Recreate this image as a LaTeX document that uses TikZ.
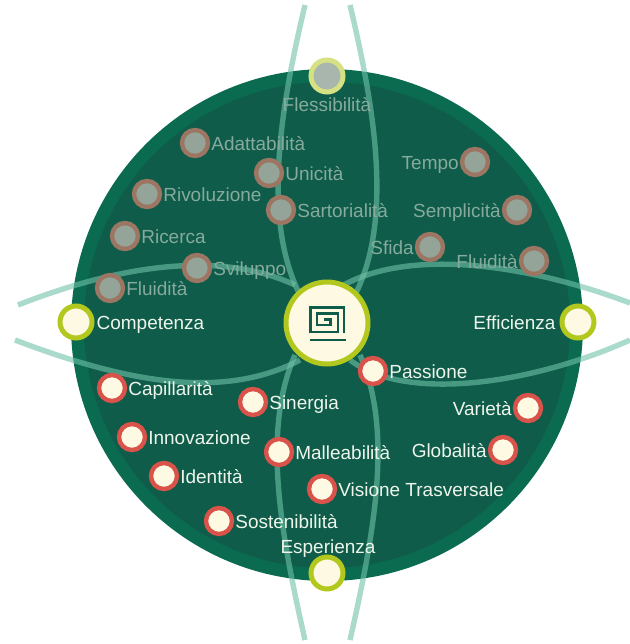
\documentclass[tikz,border=0pt]{standalone}
\usepackage{fontspec}
\setmainfont{Liberation Sans}
\usetikzlibrary{positioning}

\definecolor{discdark}{HTML}{0F5C4B}
\definecolor{discring}{HTML}{0A6B50}
\definecolor{lenscol}{HTML}{6FC2A8}
\definecolor{creamcol}{HTML}{FDF9E3}
\definecolor{limecol}{HTML}{B2C81E}
\definecolor{redcol}{HTML}{D9534A}
\definecolor{fadefill}{HTML}{94A499}
\definecolor{fadering}{HTML}{9C7662}
\definecolor{fadetext}{HTML}{86AA9B}
\definecolor{livetext}{HTML}{EEF5EA}

\tikzset{
  lens/.style={draw=lenscol, line width=2.7mm, opacity=0.6},
  livedot/.style={circle, draw=redcol, fill=creamcol, line width=2.2mm, minimum size=13mm, inner sep=0pt},
  fadedot/.style={circle, draw=fadering, fill=fadefill, line width=2.2mm, minimum size=13mm, inner sep=0pt},
  axisdot/.style={circle, draw=limecol, fill=creamcol, line width=2.5mm, minimum size=16mm, inner sep=0pt},
  livelabel/.style={text=livetext, font=\fontsize{27}{30}\selectfont, inner sep=0pt, text height=26pt, text depth=5.4pt},
  fadelabel/.style={text=fadetext, font=\fontsize{27}{30}\selectfont, inner sep=0pt, text height=26pt, text depth=5.4pt}
}

\begin{document}
\begin{tikzpicture}[x=0.5mm, y=-0.5mm]
\useasboundingbox (0,0) rectangle (630,644);

% disc
\fill[discring] (327,325) circle (256);
\fill[discdark] (327,325) circle (243);

% curves
\draw[lens] (305,5) .. controls (280,110) and (262,220) .. (300,295);
\draw[lens] (350,5) .. controls (375,110) and (393,220) .. (355,295);
\draw[lens] (305,640) .. controls (280,530) and (262,430) .. (295,355);
\draw[lens] (350,640) .. controls (375,530) and (393,430) .. (360,355);
\draw[lens] (18,305) .. controls (120,265) and (220,250) .. (295,285);
\draw[lens] (15,340) .. controls (120,380) and (220,402) .. (300,360);
\draw[lens] (630,303) .. controls (530,265) and (405,245) .. (335,290);
\draw[lens] (630,340) .. controls (530,385) and (405,402) .. (350,360);

% centre
\node[circle, draw=limecol, fill=creamcol, line width=2.5mm, minimum size=41mm, inner sep=0pt] (hub) at (327,323) {};
\draw[discdark, line width=1.1mm] (309.5,340) -- (345.5,340);
\draw[discdark, line width=1.1mm] (344,333) -- (344,307.5) -- (310.5,307.5) -- (310.5,332)
  -- (338,332) -- (338,313.5) -- (317,313.5) -- (317,325) -- (330.5,325) -- (330.5,319.5) -- (323.5,319.5);

% axis nodes
\node[axisdot, draw=limecol!55, fill=fadefill!80!white] (flessibilita) at (327,76) {};
\node[fadelabel] (flessibilitatext) at (327,104) {Flessibilità};
\node[axisdot] (competenza) at (76,322) {};
\node[livelabel, right=1mm of competenza] (competenzatext) {Competenza};
\node[axisdot] (efficienza) at (578,322) {};
\node[livelabel, left=2mm of efficienza] (efficienzatext) {Efficienza};
\node[axisdot] (esperienza) at (327,573) {};
\node[livelabel] (esperienzatext) at (328,546) {Esperienza};

% top half, left
\node[fadedot] (adattabilita) at (195,143) {};
\node[fadelabel, right=0.5mm of adattabilita] (adattabilitatext) {Adattabilità};
\node[fadedot] (unicita) at (269,173) {};
\node[fadelabel, right=0.5mm of unicita] (unicitatext) {Unicità};
\node[fadedot] (rivoluzione) at (147,194) {};
\node[fadelabel, right=0.5mm of rivoluzione] (rivoluzionetext) {Rivoluzione};
\node[fadedot] (sartorialita) at (281,210) {};
\node[fadelabel, right=0.5mm of sartorialita] (sartorialitatext) {Sartorialità};
\node[fadedot] (ricerca) at (125,236) {};
\node[fadelabel, right=0.5mm of ricerca] (ricercatext) {Ricerca};
\node[fadedot] (sviluppo) at (197,268) {};
\node[fadelabel, right=0.5mm of sviluppo] (sviluppotext) {Sviluppo};
\node[fadedot] (fluiditaleft) at (110,288) {};
\node[fadelabel, right=0.5mm of fluiditaleft] (fluiditalefttext) {Fluidità};

% top half, right
\node[fadedot] (tempo) at (475,162) {};
\node[fadelabel, left=0.5mm of tempo] (tempotext) {Tempo};
\node[fadedot] (semplicita) at (517,210) {};
\node[fadelabel, left=0.5mm of semplicita] (semplicitatext) {Semplicità};
\node[fadedot] (sfida) at (430,247) {};
\node[fadelabel, left=0.5mm of sfida] (sfidatext) {Sfida};
\node[fadedot] (fluiditaright) at (534,261) {};
\node[fadelabel, left=0.5mm of fluiditaright] (fluiditarighttext) {Fluidità};

% bottom half
\node[livedot] (passione) at (373,371) {};
\node[livelabel, right=0.5mm of passione] (passionetext) {Passione};
\node[livedot] (capillarita) at (112,388) {};
\node[livelabel, right=0.5mm of capillarita] (capillaritatext) {Capillarità};
\node[livedot] (sinergia) at (253,402) {};
\node[livelabel, right=0.5mm of sinergia] (sinergiatext) {Sinergia};
\node[livedot] (innovazione) at (132,437) {};
\node[livelabel, right=0.5mm of innovazione] (innovazionetext) {Innovazione};
\node[livedot] (malleabilita) at (279,452) {};
\node[livelabel, right=0.5mm of malleabilita] (malleabilitatext) {Malleabilità};
\node[livedot] (identita) at (164,476) {};
\node[livelabel, right=0.5mm of identita] (identitatext) {Identità};
\node[livedot] (visione) at (322,489) {};
\node[livelabel, right=0.5mm of visione] (visionetext) {Visione Trasversale};
\node[livedot] (sostenibilita) at (219,521) {};
\node[livelabel, right=0.5mm of sostenibilita] (sostenibilitatext) {Sostenibilità};
\node[livedot] (varieta) at (528,408) {};
\node[livelabel, left=0.5mm of varieta] (varietatext) {Varietà};
\node[livedot] (globalita) at (503,450) {};
\node[livelabel, left=0.5mm of globalita] (globalitatext) {Globalità};

\end{tikzpicture}
\end{document}
